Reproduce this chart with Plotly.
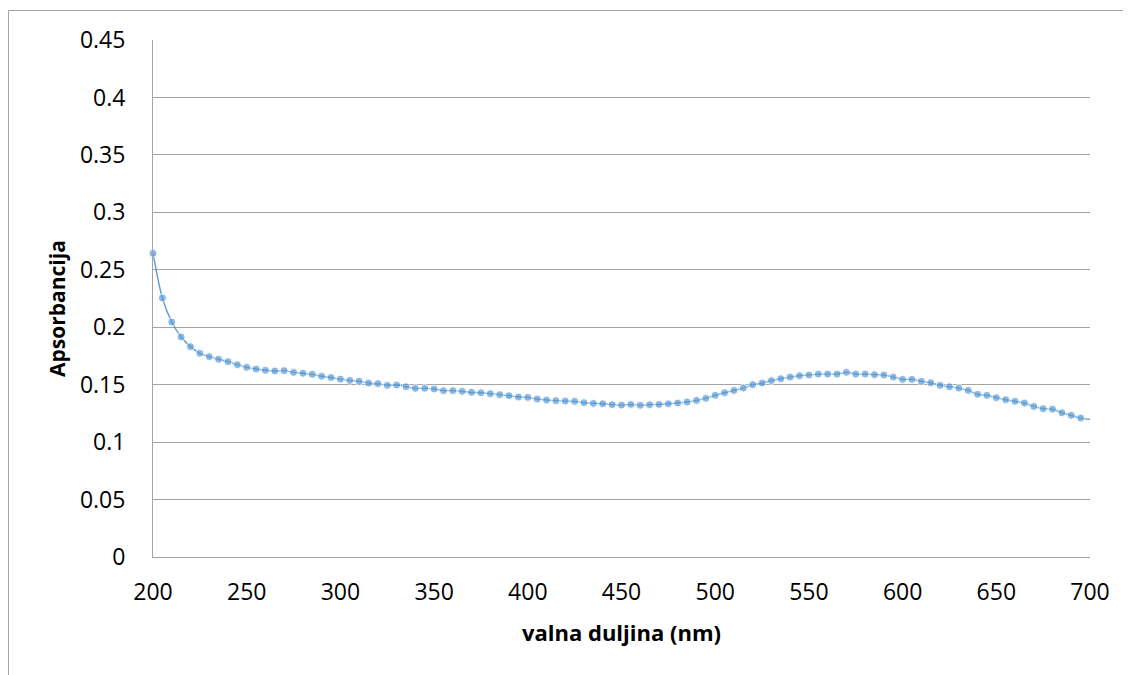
import plotly.graph_objects as go

wavelength_nm = list(range(200, 705, 5))
absorbance = [
    0.2643, 0.2254, 0.2045, 0.1915, 0.1831, 0.1773, 0.1744, 0.1721, 0.1700, 0.1674,
    0.1651, 0.1636, 0.1625, 0.1619, 0.1622, 0.1607, 0.1599, 0.1590, 0.1573, 0.1562,
    0.1548, 0.1537, 0.1529, 0.1514, 0.1509, 0.1494, 0.1497, 0.1482, 0.1468, 0.1468,
    0.1462, 0.1448, 0.1448, 0.1442, 0.1433, 0.1430, 0.1422, 0.1413, 0.1404, 0.1392,
    0.1389, 0.1375, 0.1366, 0.1361, 0.1357, 0.1355, 0.1343, 0.1337, 0.1334, 0.1326,
    0.1322, 0.1328, 0.1320, 0.1326, 0.1328, 0.1334, 0.1340, 0.1349, 0.1363, 0.1381,
    0.1407, 0.1430, 0.1450, 0.1470, 0.1500, 0.1514, 0.1535, 0.1552, 0.1566, 0.1578,
    0.1584, 0.1592, 0.1592, 0.1592, 0.1607, 0.1592, 0.1592, 0.1587, 0.1584, 0.1566,
    0.1546, 0.1546, 0.1529, 0.1517, 0.1494, 0.1482, 0.1470, 0.1450, 0.1416, 0.1407,
    0.1387, 0.1369, 0.1355, 0.1340, 0.1311, 0.1291, 0.1287, 0.1256, 0.1233, 0.1209,
    0.1198,
]
x_ticks = [200, 250, 300, 350, 400, 450, 500, 550, 600, 650, 700]
y_ticks = [0, 0.05, 0.1, 0.15, 0.2, 0.25, 0.3, 0.35, 0.4, 0.45]
y_tick_text = ["0", "0.05", "0.1", "0.15", "0.2", "0.25", "0.3", "0.35", "0.4", "0.45"]
x_title = "valna duljina (nm)"
y_title = "Apsorbancija"

BLUE = "#5B9BD5"
GRID = "#A3A3A3"
FONT = "Open Sans"

OFF = 8  # default page body margin
W, H = 1131 - OFF, 675 - OFF
# target pixel positions in the screenshot, shifted into figure coordinates
L, R, T, B = 153 - OFF, 1090 - OFF, 40 - OFF, 557 - OFF


def px_x(p):
    return (p - OFF - L) / (R - L)


def px_y(p):
    return (B - (p - OFF)) / (B - T)


fig = go.Figure()
fig.add_trace(go.Scatter(
    x=wavelength_nm, y=absorbance, mode="lines+markers",
    line=dict(color=BLUE, width=1.4, shape="spline", smoothing=0.8),
    marker=dict(color=BLUE, size=[8] * (len(absorbance) - 1) + [0]),
    cliponaxis=False, showlegend=False,
))

fig.update_layout(
    width=W, height=H,
    margin=dict(l=L, r=W - R, t=T, b=H - B, pad=0),
    paper_bgcolor="white", plot_bgcolor="white",
    font=dict(family=FONT, size=23, color="#000000"),
    xaxis=dict(range=[200, 700], tickvals=x_ticks, showgrid=False,
               showline=True, linecolor=GRID, linewidth=1,
               ticks="outside", ticklen=14, tickcolor="rgba(0,0,0,0)",
               zeroline=False, tickfont=dict(size=23)),
    yaxis=dict(range=[0, 0.45], tickvals=y_ticks, ticktext=y_tick_text,
               showgrid=True, gridcolor=GRID, gridwidth=1,
               showline=True, linecolor=GRID, linewidth=1,
               ticks="outside", ticklen=22, tickcolor="rgba(0,0,0,0)",
               zeroline=False, tickfont=dict(size=23)),
    annotations=[
        dict(text="<b>" + x_title + "</b>", xref="paper", yref="paper",
             x=px_x(621), y=px_y(632), xanchor="center", yanchor="middle",
             showarrow=False, font=dict(size=22, family=FONT)),
        dict(text="<b>" + y_title + "</b>", xref="paper", yref="paper",
             x=px_x(57), y=px_y(309), xanchor="center", yanchor="middle",
             textangle=-90, showarrow=False, font=dict(size=21, family=FONT)),
    ],
    shapes=[
        dict(type="path", xref="paper", yref="paper",
             path="M {x0},{y0} L {x0},{y1} L {x2},{y1}".format(
                 x0=px_x(8.5), y0=px_y(700), y1=px_y(10.5), x2=px_x(1140)),
             line=dict(color=GRID, width=1)),
    ],
)

fig.write_html("out.html")
